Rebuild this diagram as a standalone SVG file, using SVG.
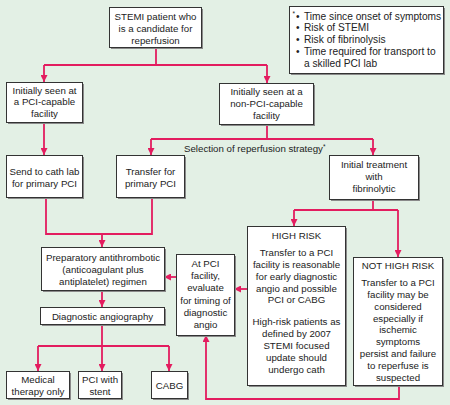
<svg xmlns="http://www.w3.org/2000/svg" width="450" height="405" viewBox="0 0 450 405">
<defs>
<marker id="ah" markerWidth="7" markerHeight="7" refX="7" refY="3.5" orient="auto" markerUnits="userSpaceOnUse">
<path d="M0,0 L7,3.5 L0,7 z" fill="#e31c5f"/>
</marker>
</defs>
<style>
.bg{fill:#e3f0e5}
.sh{fill:#8a8a8a}
.bx{fill:#ffffff;stroke:#333333;stroke-width:1}
.ln{fill:none;stroke:#e31c5f;stroke-width:1.8}
.ar{marker-end:url(#ah)}
text{font-family:"Liberation Sans",Arial,sans-serif;font-size:9.7px;fill:#222222}
.c{text-anchor:middle}
.lg{font-size:10.2px}
.sup{font-size:6.5px}
</style>
<rect class="bg" x="0" y="0" width="450" height="405"/>

<g id="connectors">
<path class="ln" d="M156 48 V65"/>
<path class="ln" d="M44 65 H267"/>
<path class="ln ar" d="M44 65 V82"/>
<path class="ln ar" d="M267 65 V83"/>
<path class="ln ar" d="M44 122 V155"/>
<path class="ln" d="M267 124 V139"/>
<path class="ln" d="M151 139 H373"/>
<path class="ln ar" d="M151 139 V155"/>
<path class="ln ar" d="M373 139 V155"/>
<path class="ln" d="M46 197 V234 H152 V197"/>
<path class="ln ar" d="M102 234 V247"/>
<path class="ln ar" d="M176 277 H164"/>
<path class="ln ar" d="M102 290 V307"/>
<path class="ln" d="M102 324 V346"/>
<path class="ln" d="M38 346 H169"/>
<path class="ln ar" d="M38 346 V371"/>
<path class="ln ar" d="M102 346 V371"/>
<path class="ln ar" d="M169 346 V371"/>
<path class="ln" d="M373 199 V210"/>
<path class="ln" d="M294 210 H398"/>
<path class="ln ar" d="M294 210 V226"/>
<path class="ln ar" d="M398 210 V257"/>
<path class="ln ar" d="M247 289 H234"/>
<path class="ln ar" d="M399 385 V399 H206 V335"/>
</g>

<g id="stemi">
<rect class="sh" x="111" y="9" width="92" height="40"/>
<rect class="bx" x="109.5" y="7.5" width="92" height="40"/>
<text class="c" x="155.5" y="19.5">STEMI patient who</text>
<text class="c" x="155.5" y="31.5">is a candidate for</text>
<text class="c" x="155.5" y="43.5">reperfusion</text>
</g>

<g id="legend">
<rect class="sh" x="291" y="8" width="154" height="67"/>
<rect class="bx" x="289.5" y="6.5" width="154" height="67"/>
<text class="sup" x="292.5" y="16">*</text>
<text class="lg" x="296" y="19.5">•</text><text class="lg" x="304" y="19.5">Time since onset of symptoms</text>
<text class="lg" x="296" y="31.3">•</text><text class="lg" x="304" y="31.3">Risk of STEMI</text>
<text class="lg" x="296" y="43">•</text><text class="lg" x="304" y="43">Risk of fibrinolysis</text>
<text class="lg" x="296" y="55">•</text><text class="lg" x="304" y="55">Time required for transport to</text>
<text class="lg" x="304" y="66.6">a skilled PCI lab</text>
</g>

<g id="pci-capable">
<rect class="sh" x="8" y="84" width="76" height="40"/>
<rect class="bx" x="6.5" y="82.5" width="76" height="40"/>
<text class="c" x="44.5" y="93.5">Initially seen at</text>
<text class="c" x="44.5" y="105.3">a PCI-capable</text>
<text class="c" x="44.5" y="117">facility</text>
</g>

<g id="non-pci-capable">
<rect class="sh" x="221" y="85" width="94" height="41"/>
<rect class="bx" x="219.5" y="83.5" width="94" height="41"/>
<text class="c" x="266.5" y="94.5">Initially seen at a</text>
<text class="c" x="266.5" y="106.5">non-PCI-capable</text>
<text class="c" x="266.5" y="119">facility</text>
</g>

<text id="selection-label" x="184" y="151.5">Selection of reperfusion strategy<tspan class="sup" dy="-3">*</tspan></text>

<g id="send-cath">
<rect class="sh" x="8" y="157" width="76" height="42"/>
<rect class="bx" x="6.5" y="155.5" width="76" height="42"/>
<text class="c" x="44.5" y="174.5">Send to cath lab</text>
<text class="c" x="44.5" y="186.5">for primary PCI</text>
</g>

<g id="transfer-primary">
<rect class="sh" x="118" y="157" width="68" height="42"/>
<rect class="bx" x="116.5" y="155.5" width="68" height="42"/>
<text class="c" x="150.5" y="174.5">Transfer for</text>
<text class="c" x="150.5" y="186.5">primary PCI</text>
</g>

<g id="fibrinolytic">
<rect class="sh" x="331" y="157" width="89" height="44"/>
<rect class="bx" x="329.5" y="155.5" width="89" height="44"/>
<text class="c" x="374" y="167.5">Initial treatment</text>
<text class="c" x="374" y="179.5">with</text>
<text class="c" x="374" y="191.5">fibrinolytic</text>
</g>

<g id="preparatory">
<rect class="sh" x="43" y="249" width="123" height="43"/>
<rect class="bx" x="41.5" y="247.5" width="123" height="43"/>
<text class="c" x="103" y="260.5">Preparatory antithrombotic</text>
<text class="c" x="103" y="272.5">(anticoagulant plus</text>
<text class="c" x="103" y="284.5">antiplatelet) regimen</text>
</g>

<g id="diagnostic">
<rect class="sh" x="42" y="309" width="124" height="17"/>
<rect class="bx" x="40.5" y="307.5" width="124" height="17"/>
<text class="c" x="102.5" y="319.5">Diagnostic angiography</text>
</g>

<g id="at-pci">
<rect class="sh" x="178" y="256" width="58" height="81"/>
<rect class="bx" x="176.5" y="254.5" width="58" height="81"/>
<text class="c" x="205.5" y="266.5">At PCI</text>
<text class="c" x="205.5" y="278.5">facility,</text>
<text class="c" x="205.5" y="291">evaluate</text>
<text class="c" x="205.5" y="303.5">for timing of</text>
<text class="c" x="205.5" y="315.5">diagnostic</text>
<text class="c" x="205.5" y="328">angio</text>
</g>

<g id="medical">
<rect class="sh" x="8" y="373" width="63" height="27"/>
<rect class="bx" x="6.5" y="371.5" width="63" height="27"/>
<text class="c" x="38" y="382.5">Medical</text>
<text class="c" x="38" y="394.5">therapy only</text>
</g>

<g id="pci-stent">
<rect class="sh" x="80" y="373" width="43" height="27"/>
<rect class="bx" x="78.5" y="371.5" width="43" height="27"/>
<text class="c" x="100" y="382.5">PCI with</text>
<text class="c" x="100" y="394.5">stent</text>
</g>

<g id="cabg">
<rect class="sh" x="153" y="373" width="36" height="27"/>
<rect class="bx" x="151.5" y="371.5" width="36" height="27"/>
<text class="c" x="169.5" y="388.5">CABG</text>
</g>

<g id="high-risk">
<rect class="sh" x="249" y="228" width="98" height="159"/>
<rect class="bx" x="247.5" y="226.5" width="98" height="159"/>
<text class="c" x="296.5" y="238.5">HIGH RISK</text>
<text class="c" x="296.5" y="255.5">Transfer to a PCI</text>
<text class="c" x="296.5" y="267.5">facility is reasonable</text>
<text class="c" x="296.5" y="279.5">for early diagnostic</text>
<text class="c" x="296.5" y="291.5">angio and possible</text>
<text class="c" x="296.5" y="303">PCI or CABG</text>
<text class="c" x="296.5" y="324.5">High-risk patients as</text>
<text class="c" x="296.5" y="336.5">defined by 2007</text>
<text class="c" x="296.5" y="348.5">STEMI focused</text>
<text class="c" x="296.5" y="360.5">update should</text>
<text class="c" x="296.5" y="372.5">undergo cath</text>
</g>

<g id="not-high-risk">
<rect class="sh" x="355" y="259" width="89" height="128"/>
<rect class="bx" x="353.5" y="257.5" width="89" height="128"/>
<text class="c" x="398" y="268.5">NOT HIGH RISK</text>
<text class="c" x="398" y="285.5">Transfer to a PCI</text>
<text class="c" x="398" y="297.5">facility may be</text>
<text class="c" x="398" y="309.5">considered</text>
<text class="c" x="398" y="321.5">especially if</text>
<text class="c" x="398" y="332.5">ischemic</text>
<text class="c" x="398" y="344.5">symptoms</text>
<text class="c" x="398" y="356.5">persist and failure</text>
<text class="c" x="398" y="368.5">to reperfuse is</text>
<text class="c" x="398" y="380.5">suspected</text>
</g>
</svg>
